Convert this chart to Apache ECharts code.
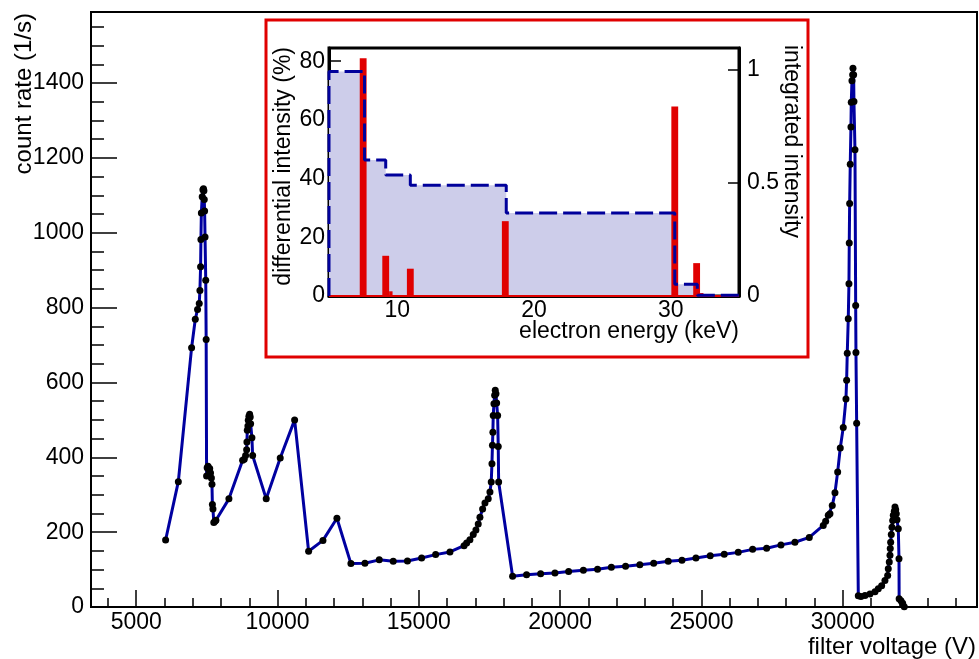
<!DOCTYPE html>
<html><head><meta charset="utf-8">
<script src="https://cdn.jsdelivr.net/npm/echarts@6/dist/echarts.min.js"></script>
<style>html,body{margin:0;padding:0;background:#fff}#c{width:979px;height:659px}</style>
</head><body><div id="c"></div>
<script>
// ---- main plot data: filter voltage (V) vs count rate (1/s) ----
const voltage = [6040,6490,6960,7090,7170,7230,7254,7278,7290,7305,7335,7360,7380,7396,7408,7420,7435,7460,7475,
  7490,7510,7540,7570,7600,7630,7660,7680,7695,7715,7745,7785,7820,8280,8765,8822,8871,8907,8917,8930,8952,8965,8988,
  9013,9034,9048,9094,9119,9600,10096,10605,11100,11607,12102,12597,13093,13599,14094,14597,15099,15595,16101,16600,
  16692,16808,16925,17020,17102,17162,17257,17340,17456,17516,17562,17587,17605,17620,17633,17658,17683,17704,17729,
  17753,17788,17810,17824,18318,18812,19310,19816,20301,20822,21324,21812,22315,22820,23310,23825,24310,24805,25311,
  25806,26302,26811,27307,27813,28308,28815,29310,29395,29487,29547,29629,29724,29820,29912,30018,30113,30137,30159,
  30195,30219,30230,30244,30265,30290,30301,30326,30350,30361,30385,30396,30432,30457,30467,30492,30550,30644,30786,
  30962,31140,31257,31376,31493,31589,31610,31646,31671,31681,31695,31717,31742,31767,31788,31824,31848,31873,31894,
  31919,31965,31990,31995,32060,32120,32176];
const countRate = [179,335,693,769,795,811,846,909,982,1053,1096,1115,1118,1112,1089,1058,989,873,715,
  350,372,376,366,370,358,345,328,274,262,226,229,232,289,392,395,405,420,441,472,484,499,510,
  515,508,490,452,405,289,398,500,149,178,237,116,117,126,122,123,131,140,147,164,
  171,180,194,206,222,240,262,278,289,307,334,383,432,467,512,543,566,579,570,
  545,512,429,334,82,86,89,91,95,98,101,106,109,113,117,122,125,131,137,
  141,146,154,157,166,173,186,218,229,245,249,271,305,361,425,480,556,606,678,
  770,864,973,1078,1183,1283,1349,1406,1422,1440,1422,1351,1222,806,680,491,30,28,31,
  35,41,49,57,71,84,102,120,138,156,173,194,213,231,245,256,267,260,249,
  233,209,129,22,17,10,1];
const xTickValues = [5000,10000,15000,20000,25000,30000];
const yTickValues = [0,200,400,600,800,1000,1200,1400];

// ---- inset data ----
const barLow   = [7.25, 8.9, 9.4, 10.7, 17.65, 30.05, 31.65, 32.15];
const barHigh  = [7.75, 9.4, 9.65, 11.2, 18.15, 30.55, 32.15, 32.4];
const barValue = [81, 13.7, 1.6, 9.3, 25.5, 64.6, 11.2, 1.0];
const stepEnergy = [5, 7.6, 9.15, 10.95, 17.97, 30.3, 31.95, 35];
const stepIntegrated = [0, 0.99, 0.60, 0.534, 0.488, 0.366, 0.052, 0.003];
const insetEnergyRange = [5, 35];
const insetEnergyTicks = [10, 20, 30];
const insetDiffTicks = [0, 20, 40, 60, 80];
const insetIntTicks = [0, 0.5, 1];

const FONT = 'Liberation Sans, Arial, Helvetica, sans-serif';
const plain = v => String(v);
const mainData = voltage.map((v, i) => [v, countRate[i]]);
const barData = barLow.map((l, i) => [l, barHigh[i], barValue[i]]);
const stepData = stepEnergy.map((e, i) => [e, stepIntegrated[i]]);
const baseData = insetEnergyRange.map(e => [e, 0]);
const minorX = []; for (let v = 4000; v <= 34000; v += 1000) if (v % 5000) minorX.push(v);
const minorY = []; for (let v = 50; v <= 1550; v += 50) if (v % 200) minorY.push(v);

const chart = echarts.init(document.getElementById('c'), null, {renderer: 'canvas'});
const blk = '#000';
chart.setOption({
  animation: false,
  textStyle: {fontFamily: FONT},
  grid: [
    {left: 91, top: 12, right: 2, bottom: 52, show: true, borderColor: blk, borderWidth: 2, outerBoundsMode: 'none'},
    {left: 329, top: 48, right: 240, bottom: 363, show: true, borderColor: blk, borderWidth: 3, outerBoundsMode: 'none'}
  ],
  xAxis: [
    {gridIndex: 0, type: 'value', min: 3400, max: 34750, position: 'bottom',
     axisLine: {lineStyle: {color: blk, width: 2}},
     axisTick: {inside: true, length: 17, customValues: xTickValues, lineStyle: {color: blk, width: 1.5}},
     axisLabel: {customValues: xTickValues, formatter: plain, color: blk, fontSize: 23, margin: 4, fontFamily: FONT},
     splitLine: {show: false}},
    {gridIndex: 0, type: 'value', min: 3400, max: 34750, position: 'bottom',
     axisLine: {show: false},
     axisTick: {inside: true, length: 9, customValues: minorX, lineStyle: {color: blk, width: 1.5}},
     axisLabel: {show: false}, splitLine: {show: false}},
    {gridIndex: 1, type: 'value', min: insetEnergyRange[0], max: insetEnergyRange[1], position: 'bottom',
     axisLine: {lineStyle: {color: blk, width: 3}},
     axisTick: {inside: true, length: 8, customValues: insetEnergyTicks, lineStyle: {color: blk, width: 1.5}},
     axisLabel: {customValues: insetEnergyTicks, formatter: plain, color: blk, fontSize: 23, margin: 3, fontFamily: FONT},
     splitLine: {show: false}}
  ],
  yAxis: [
    {gridIndex: 0, type: 'value', min: 0, max: 1590, position: 'left',
     axisLine: {show: true, lineStyle: {color: blk, width: 2}},
     axisTick: {show: true, inside: true, length: 26, customValues: yTickValues, lineStyle: {color: blk, width: 1.5}},
     axisLabel: {customValues: yTickValues, formatter: plain, color: blk, fontSize: 23, margin: 7, fontFamily: FONT},
     splitLine: {show: false}},
    {gridIndex: 0, type: 'value', min: 0, max: 1590, position: 'left',
     axisLine: {show: false},
     axisTick: {show: true, inside: true, length: 13, customValues: minorY, lineStyle: {color: blk, width: 1.5}},
     axisLabel: {show: false}, splitLine: {show: false}},
    {gridIndex: 1, type: 'value', min: 0, max: 84.5, position: 'left',
     axisLine: {show: true, lineStyle: {color: blk, width: 3}},
     axisTick: {show: true, inside: true, length: 12, customValues: insetDiffTicks, lineStyle: {color: blk, width: 1.5}},
     axisLabel: {customValues: insetDiffTicks, formatter: plain, color: blk, fontSize: 23, margin: 4, fontFamily: FONT},
     splitLine: {show: false}},
    {gridIndex: 1, type: 'value', min: 0, max: 1.094, position: 'right',
     axisLine: {show: true, lineStyle: {color: blk, width: 3}},
     axisTick: {show: true, inside: true, length: 11, customValues: insetIntTicks, lineStyle: {color: blk, width: 1.5}},
     axisLabel: {customValues: insetIntTicks, formatter: plain, color: blk, fontSize: 23, margin: 8, fontFamily: FONT},
     splitLine: {show: false}}
  ],
  series: [
    {type: 'line', xAxisIndex: 0, yAxisIndex: 0, data: mainData, z: 5,
     symbol: 'circle', symbolSize: 7, showAllSymbol: true,
     lineStyle: {color: '#0000a0', width: 3}, itemStyle: {color: '#000'}},
    {type: 'line', xAxisIndex: 2, yAxisIndex: 3, data: stepData, step: 'start', z: 1,
     symbol: 'none', lineStyle: {width: 0, opacity: 0}, areaStyle: {color: '#cdcdea', opacity: 1}},
    {type: 'custom', xAxisIndex: 2, yAxisIndex: 2, data: barData, z: 2,
     encode: {x: [0, 1], y: 2},
     renderItem: function (params, api) {
       const p0 = api.coord([api.value(0), api.value(2)]);
       const p1 = api.coord([api.value(1), 0]);
       return {type: 'rect', shape: {x: p0[0], y: p0[1], width: p1[0] - p0[0], height: p1[1] - p0[1]},
               style: {fill: '#e00000'}};
     }},
    {type: 'line', xAxisIndex: 2, yAxisIndex: 2, data: baseData, z: 2,
     symbol: 'none', lineStyle: {color: '#e00000', width: 2}},
    {type: 'line', xAxisIndex: 2, yAxisIndex: 3, data: stepData, step: 'start', z: 3,
     symbol: 'none', lineStyle: {color: '#00009b', width: 3, type: [18, 6]}}
  ],
  graphic: [
    {type: 'rect', shape: {x: 266, y: 20, width: 542, height: 337},
     style: {fill: 'none', stroke: '#e00000', lineWidth: 3}, z: 10},
    {type: 'text', x: 24, y: 13, rotation: Math.PI / 2,
     style: {text: 'count rate (1/s)', fontSize: 24, fontFamily: FONT, fill: blk, align: 'right', verticalAlign: 'middle'}},
    {type: 'text', x: 976, y: 647,
     style: {text: 'filter voltage (V)', fontSize: 24, fontFamily: FONT, fill: blk, align: 'right', verticalAlign: 'middle'}},
    {type: 'text', x: 284, y: 47, rotation: Math.PI / 2,
     style: {text: 'differential intensity (%)', fontSize: 23, fontFamily: FONT, fill: blk, align: 'right', verticalAlign: 'middle'}},
    {type: 'text', x: 739, y: 332,
     style: {text: 'electron energy (keV)', fontSize: 23, fontFamily: FONT, fill: blk, align: 'right', verticalAlign: 'middle'}},
    {type: 'text', x: 791, y: 45, rotation: -Math.PI / 2,
     style: {text: 'integrated intensity', fontSize: 23, fontFamily: FONT, fill: blk, align: 'left', verticalAlign: 'middle'}}
  ]
});
</script>
</body></html>
